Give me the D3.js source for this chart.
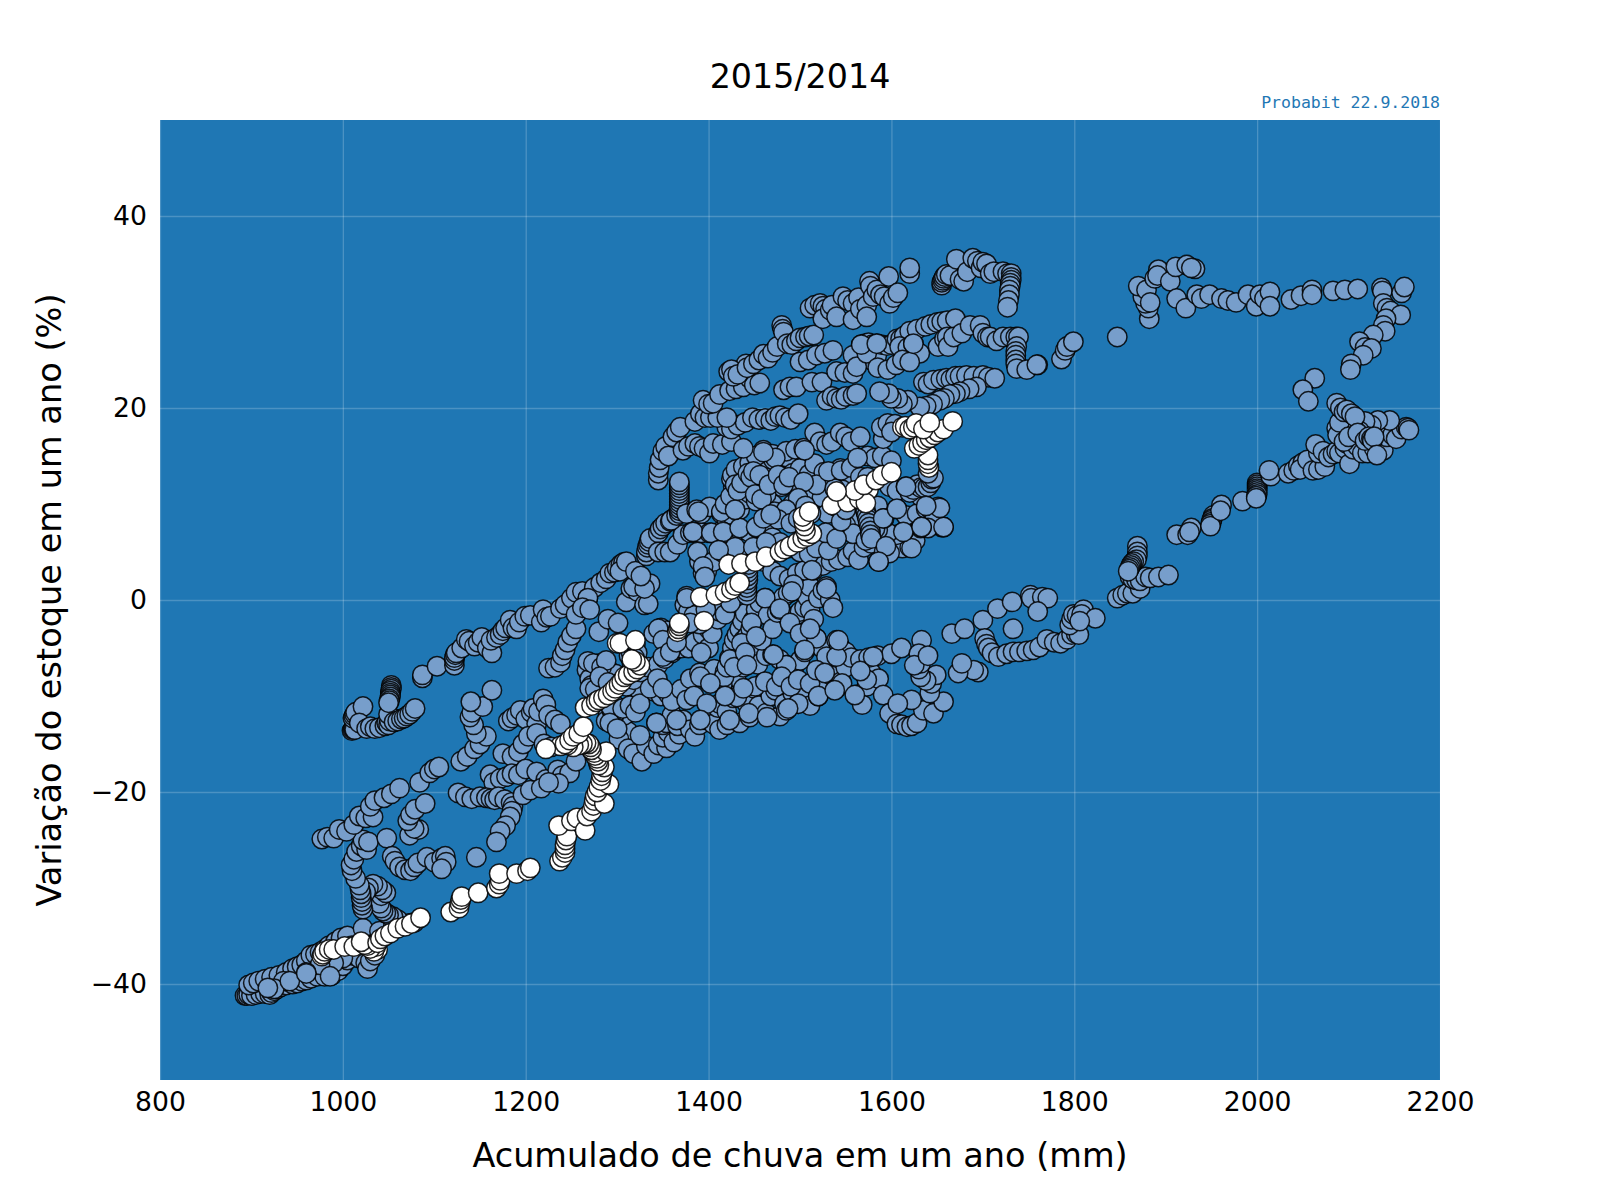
<!DOCTYPE html>
<html><head><meta charset="utf-8">
<script src="https://cdn.jsdelivr.net/npm/d3@7/dist/d3.min.js"></script>
<style>html,body{margin:0;padding:0;background:#fff}svg{display:block}text{font-family:"DejaVu Sans"}</style>
</head><body><svg id="c" width="1600" height="1200"></svg>
<script>
const titleText="2015/2014", creditText="Probabit 22.9.2018";
const xLabel="Acumulado de chuva em um ano (mm)", yLabel="Variação do estoque em um ano (%)";
const xTicks=[800,1000,1200,1400,1600,1800,2000,2200], yTicks=[-40,-20,0,20,40];
const tailLower=[[893,-41.2],[895,-41.2],[897,-41.1],[900,-41.2],[905,-41.1],[910,-41],[915,-41],[920,-41.1],[922,-40.9],[925,-40.7],[928,-40.5],[932,-40.3],[938,-40.1],[945,-40],[950,-39.9],[955,-39.7],[960,-39.6],[965,-39.4],[972,-39.2],[980,-39.2],[988,-39.1],[995,-38.6],[1000,-38.1],[1005,-37.5],[1010,-37],[1018,-37.3],[1025,-37.8],[1027,-38.4],[1030,-37.6],[1035,-37]];
const tailUpper=[[897,-40.1],[902,-39.9],[908,-39.7],[915,-39.5],[922,-39.3],[930,-39.1],[938,-38.8],[945,-38.4],[950,-38.2],[955,-38],[960,-37.6],[965,-37],[970,-36.9],[975,-36.7],[980,-36.4],[985,-36],[992,-35.6],[998,-35.2],[1005,-35],[1010,-36],[1000,-37.3],[990,-37.8],[975,-38],[960,-38.8],[935,-39.7],[925,-40.5],[918,-40.4],[942,-39.7],[960,-38.9],[986,-39.2]];
const leftColumn=[[1022,-34.2],[1040,-34.5],[1055,-34],[1065,-33.9],[1072,-33.7],[1078,-33.6],[1060,-33.3],[1055,-33],[1050,-32.8],[1047,-32.6],[1044,-32.4],[1042,-32.1],[1040,-31.6],[1042,-30.8],[1047,-30.5],[1043,-30.2],[1038,-29.8],[1033,-29.6],[1028,-30],[1025,-30.4],[1022,-32.2],[1021,-31.8],[1021,-31.4],[1020,-31],[1020,-30.6],[1019,-30.2],[1018,-29.7],[1014,-29],[1010,-28.2],[1009,-27.6],[1012,-27],[1015,-26.2],[1020,-25.6],[1026,-26],[1022,-25],[1028,-25.2]];
const leftChains=[[977,-24.9],[983,-24.7],[990,-24.8],[996,-23.9],[1004,-24.1],[1012,-23.4],[1018,-22.5],[1025,-22.7],[1033,-22.6],[1030,-21.5],[1035,-20.9],[1045,-20.6],[1053,-20.2],[1062,-19.6],[1084,-19],[1095,-18],[1100,-17.6],[1105,-17.4],[1129,-16.8],[1136,-16.3],[1144,-15.5],[1150,-15],[1157,-14.2],[1146,-13.9],[1143,-13],[1139,-12.2],[1141,-11.7],[1153,-11.1],[1140,-10.6],[1163,-9.4]];
const leftBlobs=[[1048,-24.8],[1054,-26.7],[1057,-27.2],[1062,-27.8],[1068,-28.1],[1074,-28.2],[1078,-27.8],[1082,-27.4],[1092,-26.8],[1100,-27.3],[1108,-26.9],[1112,-26.7],[1113,-27.3],[1108,-28],[1146,-26.8],[1073,-24.5],[1083,-23.9],[1078,-23.8],[1071,-23],[1074,-22.4],[1079,-21.8],[1090,-21.2]];
const cluster=[[1010,-13.6],[1011,-13.5],[1012,-13.4],[1013,-13.5],[1011,-12.3],[1012,-12.1],[1013,-11.9],[1014,-11.7],[1022,-11.1],[1018,-12.8],[1026,-13.4],[1030,-13.2],[1035,-13.4],[1040,-13.3],[1046,-13.1],[1048,-12.8],[1050,-13],[1051,-12.6],[1050,-11.9],[1053,-8.9],[1053,-9.1],[1053,-9.3],[1052,-9.5],[1052,-9.7],[1052,-9.9],[1052,-10.1],[1051,-10.3],[1051,-10.5],[1050,-10.7],[1056,-12.7],[1060,-12.6],[1064,-12.4],[1067,-12.3],[1070,-12.1],[1073,-11.9],[1076,-11.6],[1079,-11.3]];
const upperDiagonal=[[1087,-8.1],[1087,-7.8],[1103,-6.9],[1122,-6.8],[1122,-6.3],[1122,-6],[1123,-5.7],[1124,-5.5],[1130,-5],[1135,-4.1],[1138,-4.3],[1144,-4.8],[1148,-4.4],[1152,-3.9],[1158,-5],[1163,-5.5],[1162,-4.2],[1168,-3.9],[1172,-3.6],[1175,-3.2],[1178,-2.9],[1183,-2.1],[1186,-2.9],[1190,-3],[1193,-2.3],[1199,-1.7],[1205,-1.6],[1217,-2.3],[1219,-1],[1223,-1.8],[1227,-1.7],[1238,-.9],[1243,-.5],[1250,.2],[1255,.8],[1262,.9],[1268,.2],[1275,1.3],[1282,1.8],[1288,2.2],[1292,2.8],[1297,2.9],[1300,3.3],[1304,3.7],[1307,3.9]];
const shortArcs=[[1225,-7.1],[1232,-7],[1238,-6.5],[1240,-5.8],[1243,-5.2],[1246,-4.4],[1250,-3.7],[1255,-3],[1268,.2],[1255,-1.5],[1262,-.8],[1270,-1],[1280,-3.3],[1290,-2],[1301,-2.4],[1310,-.2],[1315,1.2],[1322,.9],[1330,-.5],[1336,1.7],[1334,-.4],[1303,3],[1318,1.4],[1330,1.2],[1268,-6.8],[1267,-7.3],[1270,-8.2],[1272,-8.9],[1281,-6.6],[1284,-7.5],[1290,-7.2],[1298,-7.7],[1305,-8.5],[1315,-9],[1325,-9.5]];
const lowerLeftWeb=[[1181,-12.6],[1185,-12.3],[1190,-12],[1194,-11.5],[1200,-12.4],[1206,-11.7],[1208,-11.3],[1212,-12.9],[1214,-11.6],[1219,-10.3],[1222,-10.9],[1225,-12],[1232,-12.5],[1238,-12.9],[1175,-16],[1185,-16.3],[1192,-15.8],[1197,-15],[1203,-14.2],[1212,-13.9],[1220,-15],[1228,-15.3],[1161,-18.2],[1165,-19],[1172,-18.6],[1179,-18.4],[1185,-18.1],[1192,-18.2],[1200,-17.6],[1212,-17.9],[1222,-18.7],[1235,-17.7],[1240,-18.3],[1248,-18],[1255,-16.8],[1236,-19.1],[1126,-20.1],[1134,-20.5],[1141,-20.7],[1150,-20.5],[1157,-20.6],[1162,-20.7],[1166,-20.8],[1170,-20.5],[1177,-20.8],[1184,-21.1],[1186,-21.5],[1185,-22],[1183,-22.6],[1178,-23.5],[1172,-24.1],[1168,-25.2],[1197,-20.3],[1205,-19.8],[1217,-19.6],[1225,-19],[1325,-14.4],[1318,-14.8],[1312,-13.7],[1308,-12],[1300,-11.3],[1296,-10.8],[1290,-12],[1288,-12.6],[1302,-14.5],[1312,-15.5],[1318,-16],[1327,-16.8],[1332,-15.2],[1340,-16],[1345,-15.1]];
const lowerBand=[[1354,-15.4],[1350,-14.3],[1356,-13.8],[1362,-14.8],[1368,-14],[1343,-12.8],[1350,-13],[1354,-12.8],[1360,-12],[1366,-13.1],[1372,-12.5],[1380,-13.5],[1385,-14.2],[1390,-13],[1398,-12.5],[1401,-11.6],[1405,-12.9],[1410,-11.2],[1412,-10.8],[1412,-13.5],[1420,-11.6],[1420,-13],[1427,-10.2],[1434,-12.8],[1435,-9.5],[1438,-9.2],[1442,-10.8],[1445,-12.2],[1450,-9.2],[1455,-11],[1460,-8.6],[1463,-11.8],[1468,-10],[1473,-9.4],[1478,-12.1],[1483,-10.8],[1485,-11.5],[1492,-9.7],[1498,-10.8],[1504,-9.3],[1511,-11],[1520,-10],[1526,-8.7],[1530,-7],[1535,-7.9],[1540,-9.2],[1545,-8.5],[1550,-7],[1562,-9.9],[1568,-10.9],[1573,-9],[1578,-7.6],[1586,-8.2],[1591,-9.9],[1598,-11.8],[1606,-12.9],[1611,-13],[1617,-13.2],[1622,-13.1],[1628,-12.8],[1635,-11.5],[1646,-11.8],[1657,-10.6],[1642,-9.7],[1644,-8.7],[1649,-7.8],[1638,-8.4],[1632,-8],[1630,-7.2],[1631,-6.4],[1633,-4.2],[1622,-10.4],[1607,-10.8]];
const midBottomRows=[[1310,-9],[1318,-8.3],[1326,-7.5],[1334,-7],[1345,-6.7],[1352,-6.1],[1360,-5.5],[1363,-5.2],[1370,-5],[1378,-5],[1385,-4.4],[1394,-3.6],[1400,-3],[1348,-2.9],[1354,-3.2],[1340,-3.5],[1340,-9.5],[1348,-10],[1356,-9.8],[1360,-10.5],[1370,-9.3],[1380,-8.2],[1390,-7.6],[1398,-8.3],[1406,-7.2],[1418,-7.5],[1430,-8],[1438,-7],[1444,-6.2],[1450,-5.5],[1454,-6.7],[1463,-5.8],[1470,-5.7],[1478,-6.2],[1485,-6.8],[1493,-7.5],[1500,-6.3],[1505,-5.4],[1510,-4.8],[1518,-4],[1524,-5],[1529,-5.9],[1540,-4.2],[1543,-4.7],[1550,-5.4],[1556,-6],[1566,-6.2],[1575,-6],[1585,-5.8],[1600,-5.6],[1611,-5],[1632,-6.6],[1630,-5.6],[1625,-6.8],[1640,-5.8]];
const midSteep=[[1415,-8.8],[1417,-8],[1420,-7],[1423,-6],[1426,-5],[1428,-4.2],[1431,-3.6],[1434,-3],[1437,-2.2],[1440,-1.4],[1438,-4.2],[1442,-3.8],[1446,-3],[1449,-2.1],[1452,-1],[1456,-.3],[1458,-4.2],[1462,.2],[1465,-1.6],[1470,-3],[1475,-1.3],[1478,-1],[1482,.3],[1487,.7],[1492,.9],[1497,-1.5],[1500,-1.2],[1505,-.8],[1508,.3],[1511,1.4],[1511,-1],[1515,-2],[1520,.2],[1525,1],[1529,1.4],[1533,0],[1536,-.8],[1400,-5],[1392,-5.5],[1404,-3.5],[1410,-2],[1412,-1.2],[1418,-1.5],[1424,-.3],[1376,.4],[1374,-.5],[1378,-1.2],[1384,-1.6],[1390,-2.5],[1397,-1]];
const midRows=[[1310,4],[1320,3],[1326,2.5],[1332,4.6],[1332,5],[1333,5.5],[1334,5.8],[1335,6.1],[1336,6.4],[1345,7],[1347,7.4],[1350,7.7],[1353,8],[1358,8.2],[1360,8.4],[1345,5],[1352,5],[1358,5],[1366,5.8],[1372,6.8],[1380,7],[1383,7.1],[1392,7],[1401,7],[1412,7.1],[1420,6.8],[1428,7],[1434,7.3],[1444,7.1],[1453,7.5],[1462,7.2],[1470,6.5],[1478,6],[1488,5.4],[1394,2.8],[1390,4],[1388,5],[1398,3],[1405,4],[1415,5],[1424,5],[1434,4.2],[1442,5],[1452,5],[1460,4],[1470,3],[1478,2.5],[1488,2.2],[1497,2.8],[1505,3.1],[1515,3.1],[1525,3.6],[1534,4],[1542,4.2],[1552,4.5],[1558,5.1],[1564,4.2],[1570,5.5],[1578,5.9],[1586,4],[1592,5],[1598,5],[1604,5.6],[1612,5.4],[1620,5.5],[1626,6.2],[1632,7.5],[1613,7.1],[1606,6.8],[1596,7],[1585,7.3],[1576,6.8],[1570,7.1],[1565,7.5],[1562,8.4],[1550,7.8],[1558,6.9],[1572,6.2]];
const midUpperRows=[[1359,8.3],[1365,8.8],[1368,9],[1368,9.3],[1368,9.6],[1368,9.9],[1368,10.2],[1368,10.5],[1368,10.8],[1368,11.1],[1368,11.4],[1368,11.7],[1368,12],[1368,12.3],[1376,9],[1387,9.4],[1392,9],[1401,9.7],[1414,9],[1420,8.4],[1425,8.9],[1434,9.4],[1440,10.5],[1445,11.1],[1452,10.3],[1463,10.9],[1470,10],[1480,11.8],[1472,9.2],[1484,8.9],[1492,10],[1500,11.8],[1508,11],[1518,12.1],[1524,10.7],[1530,9],[1538,9.8],[1544,13.7],[1552,12.6],[1560,10.6],[1575,8],[1582,7.4],[1573,9],[1585,9.8],[1592,8.5],[1606,9.5],[1616,8.8],[1628,9],[1638,9.5],[1644,9.3],[1651,9.7],[1632,10.8],[1427,11.8],[1425,12.6],[1426,13],[1430,13.6],[1438,13.9],[1445,14.3],[1454,13],[1460,13.9],[1465,14.7],[1471,14.6],[1478,14.9],[1485,14.9],[1492,13.2],[1500,13.7],[1510,13.1],[1516,14.2],[1526,13.3],[1534,12.6],[1460,15.6],[1452,15],[1470,15.2],[1485,15.5],[1495,15.7],[1504,15.8],[1516,17.4],[1522,16.5],[1529,16.2],[1535,16.5],[1544,17.4],[1550,17],[1556,16.5],[1566,17],[1574,15],[1582,14.8],[1590,15],[1600,14.5],[1591,16.8],[1589,18],[1596,18.4],[1604,18.3],[1600,17.5]];
const fillUpperMid=[[1389,9.2],[1383,7.1],[1403,7],[1416,7.1],[1434,7.5],[1452,7.6],[1414,9.2],[1418,10],[1424,10.8],[1429,9.4],[1429,12],[1432,11.4],[1436,12.2],[1443,13.2],[1446,12.8],[1449,13.4],[1456,13],[1463,11],[1451,11],[1458,10.5],[1466,12],[1473,14.8],[1476,13],[1482,12],[1488,12.8],[1460,15.4],[1505,15.6],[1518,12],[1504,12.3],[1498,10.6],[1485,9.4],[1476,8.4],[1460,8.5],[1468,8.9],[1490,8],[1498,8.5],[1506,9.8],[1512,9],[1394,3.5],[1396,2.4],[1429,5.5],[1411,5.2],[1449,5.5],[1463,6],[1500,5],[1510,4.8],[1493,1.6],[1513,3.1],[1518,5.4],[1531,5.2],[1528,7],[1540,6.4],[1545,8.2],[1550,9.4],[1556,11],[1546,11.5],[1538,11.6],[1531,13.4],[1545,13.5],[1556,13.8],[1566,12.8],[1563,14.8],[1574,12.8],[1571,9.5],[1572,9.2],[1573,8.8],[1574,8.4],[1575,8],[1576,7.6],[1577,7.2],[1577,6.8],[1578,6.4]];
const rightClusterMid=[[1598,11.8],[1606,11.4],[1616,11.8],[1620,11.2],[1624,11.5],[1628,12],[1632,11.7],[1636,11.7],[1640,11.8],[1643,12.2],[1644,12.6],[1646,12.7],[1640,13.2],[1655,7.6],[1657,7.6],[1646,8.2],[1640,7.5],[1633,7.6],[1591,8.5],[1606,9.5],[1622,5.4],[1598,4.9],[1594,5.6],[1586,4],[1613,7.1],[1633,7.6],[1657,7.6],[1653,9.6],[1638,9.8],[1616,11.8]];
const fillLowerMid=[[1268,-6.4],[1274,-6.6],[1283,-7],[1288,-6.3],[1270,-9.2],[1276,-9.3],[1281,-8],[1290,-8.6],[1296,-12.3],[1296,-12],[1295,-11.7],[1294,-11.4],[1293,-11.1],[1292,-12.8],[1300,-13.4],[1306,-11.3],[1314,-11],[1320,-11.7],[1325,-10.8],[1336,-9.2],[1344,-8.2],[1350,-9.2],[1345,-3],[1350,-4.2],[1350,-5.9],[1358,-5.4],[1365,-4.4],[1376,.2],[1380,-2.4],[1391,-8],[1402,-8.7],[1376,-10.4],[1384,-10],[1398,-10.8],[1391,-12.5],[1365,-12.5],[1343,-12.8],[1325,-14.1],[1423,-6.2],[1428,-7],[1431,-10.1],[1423,-12.5],[1418,-10],[1444,-11.8],[1451,-9],[1438,-9.2],[1462,-8.5],[1464,-12.2],[1436,-4.5],[1440,-5.5],[1447,-2.4],[1452,-3.8],[1442,-6.8],[1462,.2],[1478,-.9],[1489,-2.4],[1500,-3.5],[1518,-4],[1505,-5.2],[1511,-3],[1485,-6.8],[1471,-5.7],[1474,-9],[1480,-8],[1490,-9],[1498,-8.3],[1511,-8.7],[1518,-7.3],[1527,-7.6],[1520,-10],[1498,-10.8],[1487,-11.3],[1546,-8.7],[1538,-9.4],[1560,-9.9],[1573,-8.3],[1566,-7.4],[1580,-5.9],[1540,-5.9],[1542,-4.2],[1529,1.2],[1491,.9],[1442,.5],[1442,.9],[1442,1.3],[1442,1.7],[1443,2.1],[1443,2.5],[1443,2.9],[1443,3.3],[1444,3.7],[1313,-5.8],[1315,-5.4],[1318,-5],[1320,-4.6],[1322,-5.5],[1319,-6],[1316,-6.5]];
const topBand=[[1345,12.5],[1345,13.2],[1346,13.8],[1347,14.6],[1350,15.5],[1353,16],[1356,15],[1361,17],[1365,17.5],[1369,18],[1372,15.6],[1378,16],[1385,16.3],[1390,16],[1395,15.8],[1401,15.3],[1405,16.3],[1415,16.2],[1425,16.5],[1438,15.8],[1420,18],[1425,17.8],[1432,18.2],[1440,18.5],[1448,19],[1455,18.8],[1462,18.9],[1468,18.7],[1473,19.1],[1478,19.2],[1484,19],[1490,18.8],[1498,19.4],[1385,18.6],[1391,19.4],[1396,19],[1402,19],[1410,19],[1420,19],[1394,20.8],[1400,20.4],[1405,20.5],[1412,21.4],[1423,21.8],[1430,22],[1438,22.2],[1441,24.6],[1445,23.1],[1450,22.4],[1456,22.6],[1422,23.8],[1425,24],[1427,23.3],[1432,23.5],[1442,24.2],[1449,24.6],[1455,25],[1460,25.6],[1465,25.2],[1470,25.8],[1475,26.4],[1480,28.6],[1481,28.2],[1482,27.9],[1486,26.7],[1491,26.6],[1496,27],[1500,27.3],[1506,27.4],[1510,27.5],[1515,27.6],[1482,21.9],[1489,22.2],[1496,22.2],[1513,22.7],[1524,22.7],[1529,20.8],[1535,21.2],[1540,21],[1545,20.9],[1550,21.2],[1558,21.3],[1562,21.5],[1500,24.8],[1509,25],[1518,25.5],[1527,25.7],[1536,26],[1540,23.8],[1549,23.7],[1558,23.6],[1564,24.8],[1570,25.5],[1574,25.7],[1578,25],[1584,25.5]];
const crest=[[1511,30.4],[1516,30.7],[1522,30.9],[1525,30.6],[1528,30.3],[1525,29.3],[1533,30.2],[1535,30.7],[1540,29.5],[1547,31.6],[1552,31.2],[1558,30.9],[1558,29.2],[1564,31.5],[1566,30.3],[1573,30.7],[1573,29.5],[1576,33.2],[1577,32.7],[1580,31.6],[1584,32.3],[1588,31.8],[1592,31.6],[1598,30.9],[1597,33.7],[1602,31.5],[1607,32],[1620,34],[1620,34.6],[1655,32.8],[1655,33.1],[1656,33.3],[1657,33.5],[1658,33.7],[1660,33.9],[1664,33.8],[1671,35.5],[1675,33.4],[1679,33.2],[1683,34.2],[1689,35.6],[1694,35.3],[1698,34.6],[1700,35.2],[1704,35],[1708,34],[1712,34.2],[1722,34.2],[1727,34],[1731,34],[1731,33.6],[1731,33.3],[1730,33],[1730,32.7],[1729,32.3],[1729,31.8],[1728,31.2],[1727,30.5]];
const secondBand=[[1567,26.6],[1571,26.7],[1575,26.8],[1579,26.6],[1584,26.7],[1589,26.6],[1595,26.5],[1600,26.6],[1606,27.2],[1610,27.2],[1614,27.5],[1620,28],[1609,26.4],[1618,26.3],[1624,26.7],[1631,25.7],[1628,28.2],[1637,28.5],[1643,28.7],[1650,28.9],[1655,29],[1661,29.1],[1670,29.3],[1651,26.4],[1658,27.2],[1661,27.4],[1662,26.4],[1668,27.4],[1677,27.8],[1686,28.6],[1697,28.6],[1700,27.8],[1705,27.4],[1708,27.4],[1715,27],[1722,27.4],[1730,27.4],[1736,27.4],[1739,27.4],[1737,26.4],[1736,25.9],[1736,25.5],[1736,25],[1736,24.6],[1737,24.1],[1748,24],[1760,24.5],[1558,25.5],[1562,24.3],[1573,25.7],[1585,24.2],[1596,24],[1605,24.5],[1612,25],[1620,24.8],[1567,26.6],[1584,26.7],[1624,26.7]];
const thirdBand=[[1635,22.7],[1640,22.5],[1646,22.9],[1654,23],[1660,23.1],[1665,23],[1670,23.3],[1675,23.3],[1682,23.4],[1690,23.3],[1700,23.4],[1706,23.2],[1713,23.1],[1693,22.2],[1685,22],[1675,21.7],[1670,21.5],[1664,21.4],[1658,21],[1653,20.8],[1645,20.4],[1638,20.2],[1631,20.1],[1618,20.8],[1612,20.4],[1607,21],[1600,21],[1597,21.5],[1587,21.7]];
const rightLowChain=[[1666,-3.5],[1680,-3],[1700,-2.1],[1716,-.9],[1732,-.2],[1752,.5],[1753,.2],[1765,.3],[1771,.2],[1760,-1.2],[1733,-3],[1702,-4],[1704,-4.6],[1706,-5],[1695,-7.5],[1690,-7.3],[1673,-7.6],[1677,-6.6],[1710,-5.5],[1717,-5.9],[1726,-5.6],[1733,-5.4],[1740,-5.4],[1748,-5.3],[1755,-5.2],[1762,-4.9],[1770,-4.1],[1778,-4.4],[1785,-4.5],[1792,-4.1],[1797,-3.6],[1802,-3.5],[1805,-3.6],[1795,-2.6],[1797,-2],[1799,-1.5],[1803,-1.6],[1810,-1],[1808,-1.5],[1823,-1.9],[1806,-2.2]];
const rightRise=[[1847,.2],[1853,.5],[1858,.7],[1864,.7],[1872,1.2],[1861,2.4],[1864,2.2],[1868,2.1],[1872,2],[1878,2.4],[1883,2.3],[1892,2.4],[1903,2.6],[1869,5.6],[1869,5],[1869,4.6],[1868,4.2],[1865,4],[1863,3.8],[1862,3.6],[1861,3.4],[1860,3.2],[1859,3],[1912,6.8],[1924,6.8],[1928,7.5],[1926,7.1],[1952,8.8],[1951,8.5],[1950,8.3],[1950,8.1],[1949,7.9],[1949,7.7],[1961,9.9],[1960,9.3],[1984,10.3],[2000,12.2],[2000,12],[2000,11.8],[2000,11.6],[2000,11.4],[2000,11.2],[2000,11],[1999,10.8],[1999,10.6],[2015,12.9],[2013,13.5],[2034,13.2],[2040,13.5],[2045,14],[2050,14.3],[2047,13.6],[2055,14.6],[2061,13.5],[2067,13.6],[2074,13.9],[2067,15.3],[2064,16.2],[2072,15.5],[2078,14.9],[2083,15.2],[2087,15.5],[2090,15.3],[2096,15.8],[2098,16.3],[2101,14.2],[2105,15.7],[2110,16],[2115,15.3],[2121,15.3],[2128,15.8],[2132,16.5],[2138,15.6],[2142,17],[2148,17.2],[2152,16.8],[2158,17.8],[2163,18],[2165,17.9],[2166,17.7],[2145,18.7],[2132,18.7],[2125,18.2],[2118,18.6],[2112,17.6],[2105,18.2],[2096,17.8],[2087,17.9],[2088,17.2],[2090,18.5],[2087,20.5],[2091,20],[2095,19.6],[2098,19.8],[2103,19.4],[2107,19.1],[2095,16.5],[2100,17],[2110,17.4],[2118,16.6],[2122,17],[2125,16.8],[2126,16.6],[2128,17],[2131,15.1]];
const rightTop=[[1759,24.5],[1786,25.1],[1790,26],[1792,26.4],[1799,26.9],[1847,27.4],[1882,29.3],[1881,30.4],[1878,30.9],[1875,31.6],[1870,32.7],[1879,32.3],[1883,31],[1888,33.5],[1892,34.4],[1891,33.8],[1905,33.2],[1911,34.7],[1923,34.9],[1932,34.5],[1928,34.6],[1912,31.4],[1922,30.4],[1934,31.8],[1939,31.4],[1948,31.8],[1961,31.4],[1968,31.2],[1977,31],[1990,31.8],[1999,30.6],[2003,31.8],[2008,31.4],[2014,32.1],[2014,30.6],[2037,31.3],[2048,31.7],[2060,32.3],[2060,31.8],[2083,32.2],[2096,32.3],[2110,32.4],[2136,32.5],[2137,32.2],[2138,30.9],[2142,30.4],[2146,30.1],[2157,29.7],[2158,32],[2161,32.6],[2141,29.3],[2138,28.6],[2140,28],[2127,27.6],[2112,26.9],[2118,26.3],[2125,26.2],[2116,25.5],[2103,24.6],[2102,24],[2063,23.1],[2050,21.9],[2056,20.7]];
const whiteTail=[[977,-37.1],[978,-36.9],[980,-36.6],[985,-36.4],[990,-36.4],[1002,-36.1],[1012,-36.1],[1038,-36.4],[1034,-36.6],[1036,-36.1],[1030,-36.3],[1027,-36],[1024,-35.9],[1020,-35.6],[1038,-35.7],[1041,-35.3],[1046,-35],[1052,-34.7],[1060,-34.2],[1068,-34],[1075,-33.7],[1085,-33.1]];
const whiteGap=[[1118,-32.5],[1127,-32.1],[1128,-31.6],[1129,-31.2],[1130,-30.9],[1148,-30.5],[1168,-30],[1171,-29.6],[1172,-29.2],[1171,-28.5],[1190,-28.5],[1202,-28.2],[1205,-27.9]];
const whiteClimb=[[1237,-27.2],[1240,-26.8],[1243,-26.3],[1243,-25.9],[1243,-25.5],[1244,-25],[1245,-24.6],[1236,-23.5],[1250,-23],[1256,-22.7],[1265,-24],[1267,-22.5],[1272,-22],[1274,-21.4],[1275,-20.9],[1276,-20.4],[1286,-21.2],[1278,-20],[1280,-19.5],[1291,-19.2],[1282,-18.8],[1283,-18.3],[1284,-17.9],[1286,-17.4],[1280,-17.2],[1279,-16.8],[1278,-16.5],[1276,-16.2],[1275,-15.9],[1288,-15.8],[1272,-15.6],[1271,-15.3],[1269,-15],[1266,-14.9],[1262,-15],[1258,-15.1],[1252,-15.3],[1246,-15.1],[1238,-15.2],[1222,-15.5],[1243,-15],[1248,-14.6],[1252,-14.2],[1258,-13.9],[1263,-13.2]];
const whiteMid=[[1265,-11.2],[1272,-11],[1277,-10.6],[1280,-10.4],[1285,-10.2],[1290,-9.9],[1295,-9.5],[1298,-9.2],[1302,-8.8],[1305,-8.5],[1308,-8],[1312,-7.8],[1318,-7.5],[1322,-7.2],[1325,-6.8],[1320,-6.4],[1316,-6.2],[1300,-4.5],[1303,-4.5],[1320,-4.2]];
const whiteUpper=[[1366,-3.3],[1367,-3],[1368,-2.7],[1368,-2.4],[1395,-2.2],[1391,.3],[1408,.5],[1418,.8],[1425,1.1],[1429,1.5],[1434,1.8],[1422,3.7],[1436,3.8],[1451,4],[1463,4.5],[1478,5],[1483,5.3],[1489,5.6],[1497,6],[1503,6.4],[1508,6.6],[1513,6.9],[1506,7.2],[1505,7.7],[1504,8.2],[1503,8.7],[1510,9.2],[1535,9.9],[1552,10.2],[1565,10.5],[1570,11],[1575,11.5],[1572,10.1],[1560,11.4],[1540,11.3],[1570,12],[1583,12.5],[1590,13],[1600,13.3]];
const whiteTop=[[1641,13.8],[1640,14.2],[1640,14.6],[1640,15.1],[1625,15.8],[1630,16.1],[1634,16.4],[1638,16.7],[1642,16.9],[1647,17.2],[1651,17.5],[1657,17.8],[1667,18.6],[1612,18],[1615,18.1],[1620,17.8],[1624,18],[1627,18.4],[1635,17.8],[1642,18.5]];
const blueGroups=[tailLower,tailUpper,leftColumn,leftChains,leftBlobs,cluster,upperDiagonal,shortArcs,lowerLeftWeb,lowerBand,midBottomRows,midSteep,midRows,midUpperRows,fillUpperMid,rightClusterMid,fillLowerMid,topBand,crest,secondBand,thirdBand,rightLowChain,rightRise,rightTop];
const whiteGroups=[whiteTail,whiteGap,whiteClimb,whiteMid,whiteUpper,whiteTop];

const svg=d3.select("#c");
const x=d3.scaleLinear().domain([800,2200]).range([160,1440]);
const y=d3.scaleLinear().domain([-50,50]).range([1080,120]);
svg.append("rect").attr("x",160).attr("y",120).attr("width",1280).attr("height",960).attr("fill","#1f77b4");
const fmt=d=>String(d).replace("-","\u2212");
const gx=svg.append("g").attr("transform","translate(0,1080)").call(d3.axisBottom(x).tickValues(xTicks).tickFormat(fmt).tickSize(-960).tickPadding(12));
const gy=svg.append("g").attr("transform","translate(160,0)").call(d3.axisLeft(y).tickValues(yTicks).tickFormat(fmt).tickSize(-1280).tickPadding(13));
for(const g of [gx,gy]){
  g.select(".domain").remove();
  g.selectAll("line").attr("stroke","#fff").attr("stroke-opacity",0.2).attr("stroke-width",1.3);
  g.selectAll("text").attr("font-family","DejaVu Sans").attr("font-size",26.67).attr("fill","#000");
}
const draw=(groups,fill)=>svg.append("g").selectAll("circle").data(groups.flat()).join("circle")
  .attr("cx",d=>x(d[0])).attr("cy",d=>y(d[1])).attr("r",9.7).attr("fill",fill).attr("stroke","#000").attr("stroke-width",1.5).attr("stroke-opacity",.85);
draw(blueGroups,"#779ecb");
draw(whiteGroups,"#ffffff");
svg.append("text").attr("x",800).attr("y",88).attr("text-anchor","middle").attr("font-size",33.3).text(titleText);
svg.append("text").attr("x",1440).attr("y",108).attr("text-anchor","end").attr("font-size",16.5).attr("fill","#1f77b4").style("font-family","DejaVu Sans Mono").text(creditText);
svg.append("text").attr("x",800).attr("y",1167).attr("text-anchor","middle").attr("font-size",33.5).text(xLabel);
svg.append("text").attr("transform","translate(61,600) rotate(-90)").attr("text-anchor","middle").attr("font-size",33.6).text(yLabel);
</script></body></html>
